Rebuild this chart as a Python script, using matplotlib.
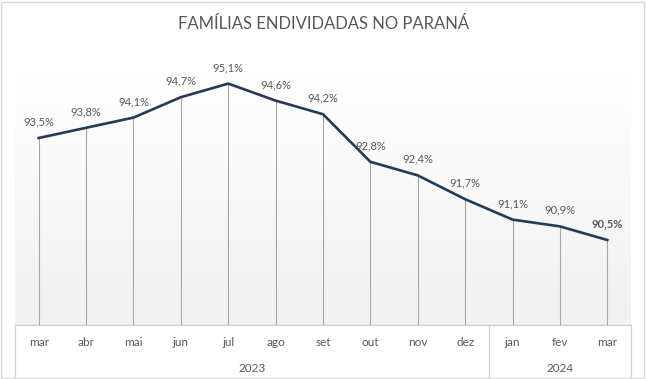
import matplotlib
matplotlib.use("Agg")
import matplotlib.pyplot as plt
import numpy as np
from matplotlib.lines import Line2D
from matplotlib.patches import Rectangle
from matplotlib.transforms import blended_transform_factory

# dados
meses = ['mar', 'abr', 'mai', 'jun', 'jul', 'ago', 'set', 'out', 'nov', 'dez', 'jan', 'fev', 'mar']
valores = [93.5, 93.8, 94.1, 94.7, 95.1, 94.6, 94.2, 92.8, 92.4, 91.7, 91.1, 90.9, 90.5]
anos = ['2023', '2024']
meses_por_ano = [10, 3]

plt.rcParams['font.family'] = ['Lato', 'DejaVu Sans']

cinza = '#595959'
W, H = 647, 379
fig = plt.figure(figsize=(W / 100, H / 100), dpi=100)

# area do grafico (pixels)
x0, x1 = 15, 631
y_top, y_bot = 53, 325
ax = fig.add_axes([x0 / W, 1 - y_bot / H, (x1 - x0) / W, (y_bot - y_top) / H])
ax.set_xlim(-0.5, len(meses) - 0.5)
ax.set_ylim(88, 96)
for s in ax.spines.values():
    s.set_visible(False)
ax.set_xticks([])
ax.set_yticks([])

# fundo em degrade (branco em cima, cinza claro embaixo)
grad = np.linspace(1.0, 0.0, 256).reshape(-1, 1)
c_top = np.array([1.0, 1.0, 1.0])
c_bot = np.array([0.945, 0.945, 0.945])
img = c_bot + (c_top - c_bot) * grad[..., None]
ax.imshow(img, extent=[-0.5, len(meses) - 0.5, 88, 95.4], aspect='auto', zorder=0)
ax.set_ylim(88, 96)

x = np.arange(len(meses))
ax.vlines(x, 88, valores, colors='#a6a6a6', linewidth=0.8, zorder=1)
ax.plot(x, valores, color='#243a5a', linewidth=1.9, solid_joinstyle='round', zorder=3)

for i, v in enumerate(valores):
    txt = f'{v:.1f}%'.replace('.', ',')
    peso = 'bold' if i == len(valores) - 1 else 'normal'
    ax.annotate(txt, (i, v), xytext=(0, 16), textcoords='offset pixels',
                ha='center', va='center', fontsize=8, color=cinza, fontweight=peso)

# eixo de categorias
tr = blended_transform_factory(ax.transData, fig.transFigure)
fy = lambda py: 1 - py / H
fig.add_artist(Line2D([x0 / W, x1 / W], [fy(y_bot), fy(y_bot)], color='#d0d0d0', linewidth=0.9,
                      transform=fig.transFigure))
bordas = [-0.5]
acc = -0.5
for n in meses_por_ano:
    acc += n
    bordas.append(acc)
for b in bordas:
    fig.add_artist(Line2D([b, b], [fy(y_bot), fy(377)], color='#d0d0d0', linewidth=0.9, transform=tr))

for i, m in enumerate(meses):
    fig.text(i, fy(343), m, transform=tr, ha='center', va='center', fontsize=8.5, color=cinza)

for j, a in enumerate(anos):
    centro = (bordas[j] + bordas[j + 1]) / 2
    fig.text(centro, fy(368), a, transform=tr, ha='center', va='center', fontsize=8.5, color=cinza)

fig.text(324 / W, fy(24), 'FAMÍLIAS ENDIVIDADAS NO PARANÁ', ha='center', va='center',
         fontsize=12, color=cinza)

# borda externa
fig.add_artist(Rectangle((1 / W, 1 / H), 643 / W, 376 / H, transform=fig.transFigure,
                         fill=False, edgecolor='#d9d9d9', linewidth=1))

fig.savefig('out.png', dpi=100)
